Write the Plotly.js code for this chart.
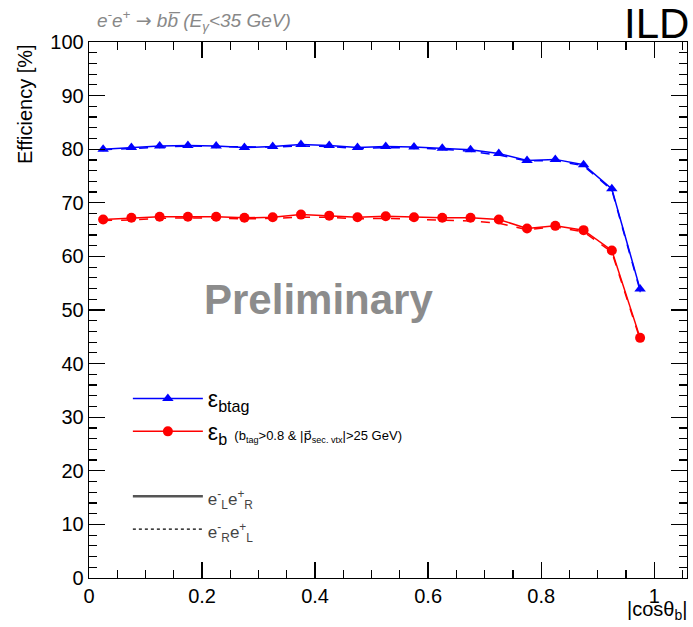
<!DOCTYPE html>
<html>
<head>
<meta charset="utf-8">
<script src="https://cdn.plot.ly/plotly-3.0.1.min.js"></script>
<style>html,body{margin:0;padding:0;background:#fff;}#chart{width:693px;height:627px;}</style>
</head>
<body>
<div id="chart"></div>
<script>
// |cos theta_b| bin centres
const cosTheta = [0.025,0.075,0.125,0.175,0.225,0.275,0.325,0.375,0.425,0.475,0.525,0.575,0.625,0.675,0.725,0.775,0.825,0.875,0.925,0.975];
// b-tag efficiency [%], e-L e+R (solid) and e-R e+L (dashed)
const btagLR = [80.0,80.3,80.6,80.7,80.6,80.3,80.5,80.9,80.7,80.3,80.5,80.4,80.2,79.9,79.2,77.9,78.1,77.1,72.6,53.9];
const btagRL = [79.9,80.1,80.4,80.6,80.5,80.4,80.4,80.6,80.5,80.1,80.3,80.2,80.0,79.6,78.9,77.8,77.9,76.9,72.4,53.6];
const btagErr = [0.4,0.4,0.4,0.4,0.4,0.4,0.4,0.4,0.4,0.4,0.4,0.4,0.4,0.4,0.4,0.4,0.4,0.4,0.5,0.6];
// b efficiency with extra cuts [%]
const bLR = [66.9,67.2,67.4,67.4,67.4,67.2,67.3,67.8,67.6,67.3,67.5,67.3,67.2,67.2,66.9,65.2,65.7,64.9,61.1,44.8];
const bRL = [66.7,66.8,67.1,67.2,67.1,67.0,67.1,67.3,67.3,67.0,67.1,66.9,66.8,66.6,66.2,65.0,65.5,64.6,60.8,44.5];
const bErr = [0.5,0.5,0.5,0.5,0.5,0.5,0.5,0.5,0.5,0.5,0.5,0.5,0.5,0.5,0.5,0.5,0.5,0.5,0.6,0.7];

const FONT = "Liberation Sans, Arial, Helvetica, sans-serif";
const BLUE = "#0000ff", RED = "#ff0000";

const traces = [
  {x: cosTheta, y: btagRL, mode: "lines", line: {color: BLUE, width: 1.5, dash: "dash"},
   showlegend: false, hoverinfo: "skip"},
  {x: cosTheta, y: bRL, mode: "lines", line: {color: RED, width: 1.5, dash: "dash"},
   showlegend: false, hoverinfo: "skip"},
  {x: cosTheta, y: btagLR, mode: "lines+markers", name: "ε<sub>btag</sub>",
   line: {color: BLUE, width: 1.5}, marker: {symbol: "triangle-up", size: 10, color: BLUE},
   error_y: {type: "data", array: btagErr, color: BLUE, thickness: 1.2, width: 0},
   legendgroup: "a"},
  {x: cosTheta, y: bLR, mode: "lines+markers",
   name: "ε<sub>b</sub><span style='font-size:13px'>  (b<sub>tag</sub>>0.8 & |<span style='font-family:DejaVu Sans'>p⃗</span><sub>sec. vtx</sub>|>25 GeV)</span>",
   line: {color: RED, width: 1.5}, marker: {symbol: "circle", size: 10, color: RED},
   error_y: {type: "data", array: bErr, color: RED, thickness: 1.2, width: 0},
   legendgroup: "a"},
  {x: [null], y: [null], mode: "lines", name: "<span style='font-size:17px;color:#444'>e<sup>-</sup><sub>L</sub>e<sup>+</sup><sub>R</sub></span>",
   line: {color: "#555555", width: 2.5}, legendgroup: "b"},
  {x: [null], y: [null], mode: "lines", name: "<span style='font-size:17px;color:#444'>e<sup>-</sup><sub>R</sub>e<sup>+</sup><sub>L</sub></span>",
   line: {color: "#000000", width: 1.2, dash: "dot"}, legendgroup: "b"}
];

const axisCommon = {
  showgrid: false, zeroline: false, showline: true, linecolor: "#000", linewidth: 1.3,
  mirror: "ticks", ticks: "inside", tickcolor: "#000", tickwidth: 1.3, ticklen: 16,
  tickfont: {family: FONT, size: 20, color: "#000"}
};

const layout = {
  width: 693, height: 627,
  margin: {l: 89, r: 6, t: 42, b: 49},
  paper_bgcolor: "#fff", plot_bgcolor: "#fff",
  font: {family: FONT},
  xaxis: Object.assign({}, axisCommon, {
    range: [0, 1.058], tickvals: [0, 0.2, 0.4, 0.6, 0.8, 1], ticktext: ["0","0.2","0.4","0.6","0.8","1"],
    minor: {dtick: 0.05, tick0: 0, ticks: "inside", ticklen: 8, tickcolor: "#000", tickwidth: 1.2}
  }),
  yaxis: Object.assign({}, axisCommon, {
    range: [0, 100], dtick: 10, tick0: 0,
    minor: {dtick: 2, tick0: 0, ticks: "inside", ticklen: 8, tickcolor: "#000", tickwidth: 1.2}
  }),
  showlegend: true,
  legend: {
    x: 0.065, y: 0.375, xanchor: "left", yanchor: "top",
    bgcolor: "rgba(0,0,0,0)", borderwidth: 0,
    font: {family: FONT, size: 23, color: "#000"},
    itemwidth: 70, tracegroupgap: 32, traceorder: "grouped"
  },
  annotations: [
    {xref: "paper", yref: "paper", x: 0.01, y: 1.041, xanchor: "left", yanchor: "middle",
     text: "<i>e<sup>-</sup>e<sup>+</sup> <span style='font-family:DejaVu Sans'>→</span> bb̅ (E<sub>γ</sub><35 GeV)</i>", showarrow: false,
     font: {family: FONT, size: 19, color: "#888888"}},
    {xref: "paper", yref: "paper", x: 1.006, y: 1.034, xanchor: "right", yanchor: "middle",
     text: "ILD", showarrow: false, font: {family: FONT, size: 42, color: "#000"}},
    {xref: "paper", yref: "paper", x: 0.383, y: 0.519, xanchor: "center", yanchor: "middle",
     text: "<b>Preliminary</b>", showarrow: false, font: {family: FONT, size: 42, color: "#8c8c8c"}},
    {xref: "paper", yref: "paper", x: -0.107, y: 1.0, xanchor: "center", yanchor: "top",
     text: "Efficiency [%]", textangle: -90, showarrow: false,
     font: {family: FONT, size: 20, color: "#000"}},
    {xref: "paper", yref: "paper", x: 1.004, y: -0.088, xanchor: "right", yanchor: "bottom",
     text: "|cosθ<sub>b</sub>|", showarrow: false, font: {family: FONT, size: 20, color: "#000"}}
  ]
};

Plotly.newPlot("chart", traces, layout, {staticPlot: true, displayModeBar: false});
</script>
</body>
</html>
